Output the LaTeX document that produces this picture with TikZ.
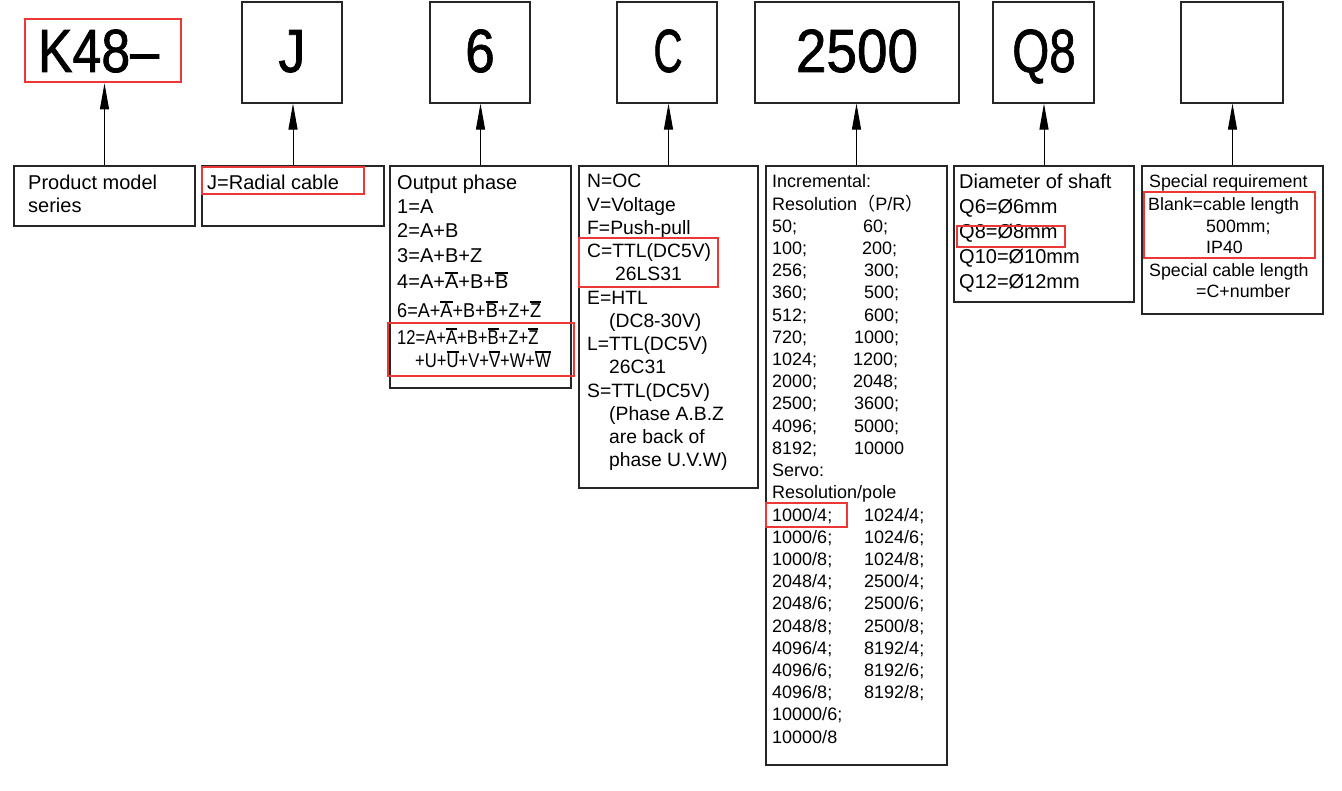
\documentclass[tikz,border=0pt]{standalone}
\usepackage{fontspec}
\usepackage{graphicx}
\setmainfont{Liberation Sans}
\newfontfamily\cjkfont{Noto Sans CJK SC}
\newfontfamily\bigfamily[FakeBold=1.3]{Liberation Sans}
\usetikzlibrary{arrows.meta}
\definecolor{hlred}{RGB}{236,55,55}
\newcommand\ovl[1]{\vbox{\hrule height 1.7pt\kern 1.6pt\hbox{#1}}}
\newcommand\fA{\fontsize{20}{24}\selectfont}
\newcommand\fB{\fontsize{19.3}{23}\selectfont}
\newcommand\fC{\fontsize{18}{22}\selectfont}
\newcommand\fD{\fontsize{17.8}{21}\selectfont}
\newcommand\fBig{\bigfamily\fontsize{61}{61}\selectfont}
\begin{document}
\begin{tikzpicture}[x=1pt,y=-1pt]
\tikzset{
  box/.style={draw=black!85, line width=1.1pt, inner sep=0pt, rectangle},
  hl/.style={draw=hlred, line width=2.6pt, inner sep=0pt, rectangle},
  big/.style={font=\fBig, inner sep=0pt, anchor=base},
  ln/.style={inner sep=0pt, anchor=base west},
  arr/.style={draw=black, line width=1pt, -{Triangle[length=26pt,width=9pt]}}
}
\fill[white] (0,0) rectangle (1342,791);
\useasboundingbox (0,0) rectangle (1342,791);

% ---------- top boxes ----------
\node[hl, minimum width=156pt, minimum height=63pt] (k48) at (103,50.5) {};
\node[big] (k48t) at (98.5,72) {\scalebox{0.85}[1]{K48–}};
\node[box, minimum width=100pt, minimum height=101pt] (jt) at (292,52.5) {};
\node[big] (jtt) at (292,72) {\scalebox{0.88}[1]{J}};
\node[box, minimum width=100pt, minimum height=101pt] (pt) at (480,52.5) {};
\node[big] (ptt) at (480,72) {\scalebox{0.87}[1]{6}};
\node[box, minimum width=100pt, minimum height=101pt] (ct) at (667,52.5) {};
\node[big] (ctt) at (668,72) {\scalebox{0.66}[1]{C}};
\node[box, minimum width=204pt, minimum height=101pt] (rt) at (857,52.5) {};
\node[big] (rtt) at (857,72) {\scalebox{0.9}[1]{2500}};
\node[box, minimum width=101pt, minimum height=101pt] (qt) at (1043.5,52.5) {};
\node[big] (qtt) at (1044,72) {\scalebox{0.78}[1]{Q8}};
\node[box, minimum width=102pt, minimum height=101pt] (st) at (1232,52.5) {};

% ---------- bottom boxes ----------
\node[box, minimum width=181pt, minimum height=60pt] (pb) at (104.5,196) {};
\node[box, minimum width=182pt, minimum height=60pt] (jb) at (293,196) {};
\node[box, minimum width=181pt, minimum height=222pt] (ob) at (480.5,277) {};
\node[box, minimum width=179pt, minimum height=322pt] (cb) at (668.5,327) {};
\node[box, minimum width=181pt, minimum height=599pt] (rb) at (856.5,465.5) {};
\node[box, minimum width=180pt, minimum height=136pt] (qb) at (1044,234) {};
\node[box, minimum width=181pt, minimum height=148pt] (sb) at (1232.5,240) {};

% ---------- arrows ----------
\draw[arr] (pb.north) -- (pb.north |- k48.south);
\draw[arr] (jb.north) -- (jb.north |- jt.south);
\draw[arr] (ob.north) -- (ob.north |- pt.south);
\draw[arr] (cb.north) -- (cb.north |- ct.south);
\draw[arr] (rb.north) -- (rb.north |- rt.south);
\draw[arr] (qb.north) -- (qb.north |- qt.south);
\draw[arr] (sb.north) -- (sb.north |- st.south);

% ---------- product model ----------
\node[ln, font=\fA] (pb1) at (28,190) {Product model};
\node[ln, font=\fA] (pb2) at (28,213) {series};

% ---------- J ----------
\node[ln, font=\fA] (jb1) at (207,190) {J=Radial cable};
\node[hl, minimum width=162pt, minimum height=27pt] (jhl) at (283,180.5) {};

% ---------- output phase ----------
\foreach \y/\t [count=\i] in {190/{Output phase},214/{1=A},238/{2=A+B},263/{3=A+B+Z},289/{4=A+\ovl{A}+B+\ovl{B}}}
  \node[ln, font=\fA] (op\i) at (397,\y) {\t};
\node[ln, font=\fA] (op6) at (397,318) {\scalebox{0.905}[1]{6=A+\ovl{A}+B+\ovl{B}+Z+\ovl{Z}}};
\node[ln, font=\fA] (op7) at (397,345) {\scalebox{0.83}[1]{12=A+\ovl{A}+B+\ovl{B}+Z+\ovl{Z}}};
\node[ln, font=\fA] (op8) at (415,368) {\scalebox{0.83}[1]{+U+\ovl{U}+V+\ovl{V}+W+\ovl{W}}};
\node[hl, minimum width=186pt, minimum height=53pt] (ohl) at (481,349.5) {};

% ---------- output circuit ----------
\foreach \x/\t [count=\i from 0] in {587/{N=OC},587/{V=Voltage},587/{F=Push-pull},587/{C=TTL(DC5V)},615/{26LS31},587/{E=HTL},609/{(DC8-30V)},587/{L=TTL(DC5V)},609/{26C31},587/{S=TTL(DC5V)},609/{(Phase A.B.Z},609/{are back of},609/{phase U.V.W)}}
  \node[ln, font=\fB] (cl\i) at (\x,{188+23.25*\i}) {\t};
\node[hl, minimum width=139pt, minimum height=49pt] (chl) at (648.5,262.5) {};

% ---------- resolution ----------
\foreach \t [count=\i from 0] in {{Incremental:},{Resolution{\cjkfont （}P/R{\cjkfont ）}},{50;},{100;},{256;},{360;},{512;},{720;},{1024;},{2000;},{2500;},{4096;},{8192;},{Servo:},{Resolution/pole},{1000/4;},{1000/6;},{1000/8;},{2048/4;},{2048/6;},{2048/8;},{4096/4;},{4096/6;},{4096/8;},{10000/6;},{10000/8}}
  \node[ln, font=\fC] (rl\i) at (772,{188+22.2*\i}) {\t};
\foreach \x/\t [count=\i from 2] in {863/{60;},862/{200;},864/{300;},864/{500;},864/{600;},854/{1000;},853/{1200;},853/{2048;},854/{3600;},854/{5000;},854/{10000}}
  \node[ln, font=\fC] (rr\i) at (\x,{188+22.2*\i}) {\t};
\foreach \t [count=\i from 15] in {{1024/4;},{1024/6;},{1024/8;},{2500/4;},{2500/6;},{2500/8;},{8192/4;},{8192/6;},{8192/8;}}
  \node[ln, font=\fC] (rs\i) at (864,{188+22.2*\i}) {\t};
\node[hl, minimum width=81pt, minimum height=24pt] (rhl) at (806.5,515) {};

% ---------- shaft ----------
\foreach \t [count=\i from 0] in {{Diameter of shaft},{Q6=Ø6mm},{Q8=Ø8mm},{Q10=Ø10mm},{Q12=Ø12mm}}
  \node[ln, font=\fA] (ql\i) at (959,{189+25*\i}) {\t};
\node[hl, minimum width=108pt, minimum height=21pt] (qhl) at (1011,236.5) {};

% ---------- special ----------
\node[ln, font=\fD] (sl1) at (1149,188) {Special requirement};
\node[ln, font=\fD] (sl2) at (1148,211) {Blank=cable length};
\node[ln, font=\fD] (sl3) at (1206,233) {500mm;};
\node[ln, font=\fD] (sl4) at (1206,254) {IP40};
\node[ln, font=\fD] (sl5) at (1149,277) {Special cable length};
\node[ln, font=\fD] (sl6) at (1196,298) {=C+number};
\node[hl, minimum width=171pt, minimum height=66pt] (shl) at (1229.5,225) {};
\end{tikzpicture}
\end{document}
